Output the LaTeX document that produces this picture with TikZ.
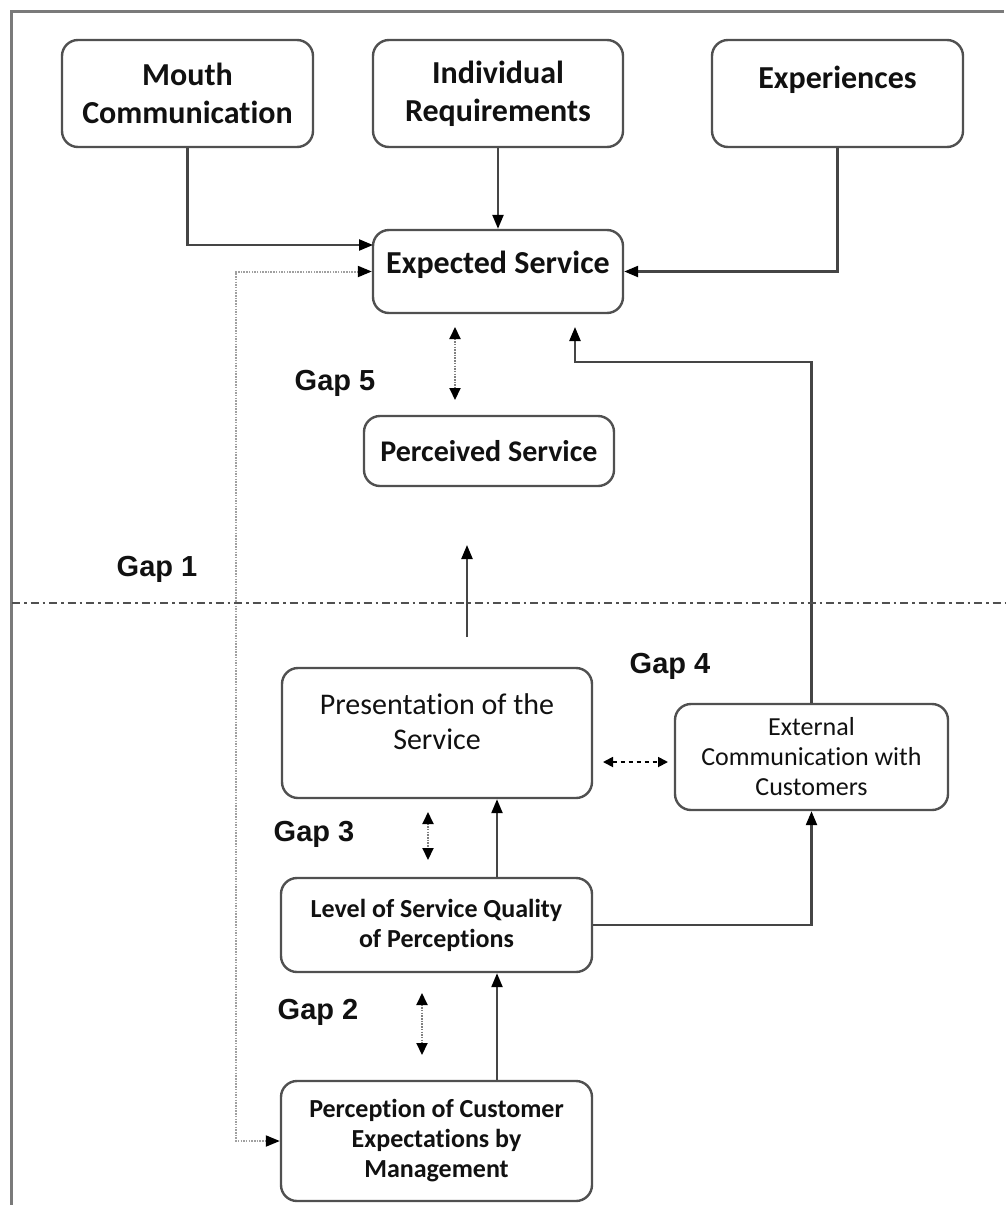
\documentclass[tikz,border=0pt]{standalone}
\usepackage{fontspec}
\setmainfont{Carlito}[Ligatures=NoCommon]
\newfontfamily\gapfont{Liberation Sans}
\usetikzlibrary{arrows.meta}
\definecolor{boxgray}{HTML}{505050}
\definecolor{linegray}{HTML}{454545}
\definecolor{dotgray}{HTML}{A0A0A0}
\definecolor{framegray}{HTML}{7A7A7A}
\definecolor{txt}{HTML}{111111}
\begin{document}
\begin{tikzpicture}[x=1pt,y=-1pt,
  box/.style={draw=boxgray, line width=2.4pt, rounded corners=16pt, inner sep=0pt, text=txt, align=center},
  bigtxt/.style={font=\bfseries\fontsize{32}{38}\selectfont},
  midtxt/.style={font=\bfseries\fontsize{26}{30}\selectfont},
  regtxt/.style={font=\fontsize{30}{35}\selectfont},
  smregtxt/.style={font=\fontsize{26}{30}\selectfont},
  gaptxt/.style={font=\gapfont\bfseries\fontsize{29}{32}\selectfont, text=txt, inner sep=0pt},
  conn/.style={draw=linegray, line width=2.3pt, -{Triangle[length=14pt,width=11pt,color=black]}},
  dotconn/.style={draw=dotgray, line width=2pt, dash pattern=on 1.5pt off 1.2pt,
     {Triangle[length=14pt,width=11pt,color=black]}-{Triangle[length=14pt,width=11pt,color=black]}},
  gapdot/.style={draw=gray, line width=2pt, dash pattern=on 1.5pt off 1.2pt,
     {Triangle[length=12pt,width=11pt,color=black]}-{Triangle[length=12pt,width=11pt,color=black]}},
  gapdash/.style={draw=black, line width=1.8pt, dash pattern=on 4pt off 4pt,
     {Triangle[length=10pt,width=10pt,color=black]}-{Triangle[length=10pt,width=10pt,color=black]}},
  divider/.style={draw=boxgray, line width=2.4pt, dash pattern=on 8pt off 4pt on 2.5pt off 4pt}
]
\useasboundingbox (0,0) rectangle (1005,1205);
\fill[white] (0,0) rectangle (1005,1205);
% frame
\draw[framegray, line width=3pt] (11,1207) -- (11,11) -- (1004,11);

% top boxes
\node[box, bigtxt, minimum width=251pt, minimum height=107pt] (mouth) at (187.5,93.5) {Mouth\\Communication};
\node[box, bigtxt, minimum width=250pt, minimum height=107pt] (ind) at (498,93.5) {Individual\\Requirements};
\node[box, minimum width=251pt, minimum height=107pt] (expr) at (837.5,93.5) {};
\node[bigtxt, text=txt] (exprt) at (837.5,80) {Experiences};

% expected / perceived
\node[box, minimum width=250pt, minimum height=83pt] (exs) at (498,271.5) {};
\node[bigtxt, text=txt] (exst) at (498,265) {Expected Service};
\node[box, font=\bfseries\fontsize{30}{35}\selectfont, minimum width=250pt, minimum height=70pt] (per) at (489,451) {Perceived Service};

% lower boxes
\node[box, minimum width=310pt, minimum height=130pt] (pres) at (437,733) {};
\node[regtxt, text=txt, align=center] (prest) at (437,722) {Presentation of the\\Service};
\node[box, smregtxt, minimum width=273pt, minimum height=106pt] (ext) at (811.5,757) {External\\Communication with\\Customers};
\node[box, midtxt, minimum width=311pt, minimum height=94pt] (lvl) at (436.5,925) {Level of Service Quality\\of Perceptions};
\node[box, midtxt, minimum width=311pt, minimum height=120pt] (pcm) at (436.5,1141) {Perception of Customer\\Expectations by\\Management};

% gap labels
\node[gaptxt] (g1) at (157,569) {Gap 1};
\node[gaptxt] (g5) at (335,383) {Gap 5};
\node[gaptxt] (g4) at (670,666) {Gap 4};
\node[gaptxt] (g3) at (314,834) {Gap 3};
\node[gaptxt] (g2) at (318,1012) {Gap 2};

% helper coordinates
\coordinate (mouthIn) at (373,245);
\coordinate (dl) at (236,1141);
\coordinate (g5a) at (455,327);
\coordinate (g5b) at (455,400);
\coordinate (c1) at (575,362);
\coordinate (c2) at (575,327);
\coordinate (pp1) at (467,637);
\coordinate (pp2) at (467,545);
\coordinate (dvl) at (12,603);
\coordinate (dvr) at (1005,603);
\coordinate (g4a) at (603,762);
\coordinate (g4b) at (668,762);
\coordinate (g3a) at (428,812);
\coordinate (g3b) at (428,860);
\coordinate (g2a) at (422,993);
\coordinate (g2b) at (422,1055);

% connectors to Expected Service
\draw[conn] (mouth.south) |- (mouthIn);
\draw[conn] (ind.south) -- (exs.north);
\draw[conn] (expr.south) |- (exs.east);
\draw[dotconn] (exs.west) -| (dl) -- (pcm.west);

% gap 5
\draw[gapdot] (g5a) -- (g5b);
% external -> expected
\draw[conn] (ext.north) |- (c1) -- (c2);
% presentation -> perceived
\draw[conn] (pp1) -- (pp2);
% divider
\draw[divider] (dvl) -- (dvr);
% gap 4
\draw[gapdash] (g4a) -- (g4b);
% gap 3
\draw[gapdot] (g3a) -- (g3b);
% level -> presentation
\draw[conn] ([xshift=60.5pt]lvl.north) -- ([xshift=60.5pt]lvl.north |- pres.south);
% level -> external
\draw[conn] (lvl.east) -| (ext.south);
% gap 2
\draw[gapdot] (g2a) -- (g2b);
% perception -> level
\draw[conn] ([xshift=60.5pt]pcm.north) -- ([xshift=60.5pt]pcm.north |- lvl.south);
\end{tikzpicture}
\end{document}
